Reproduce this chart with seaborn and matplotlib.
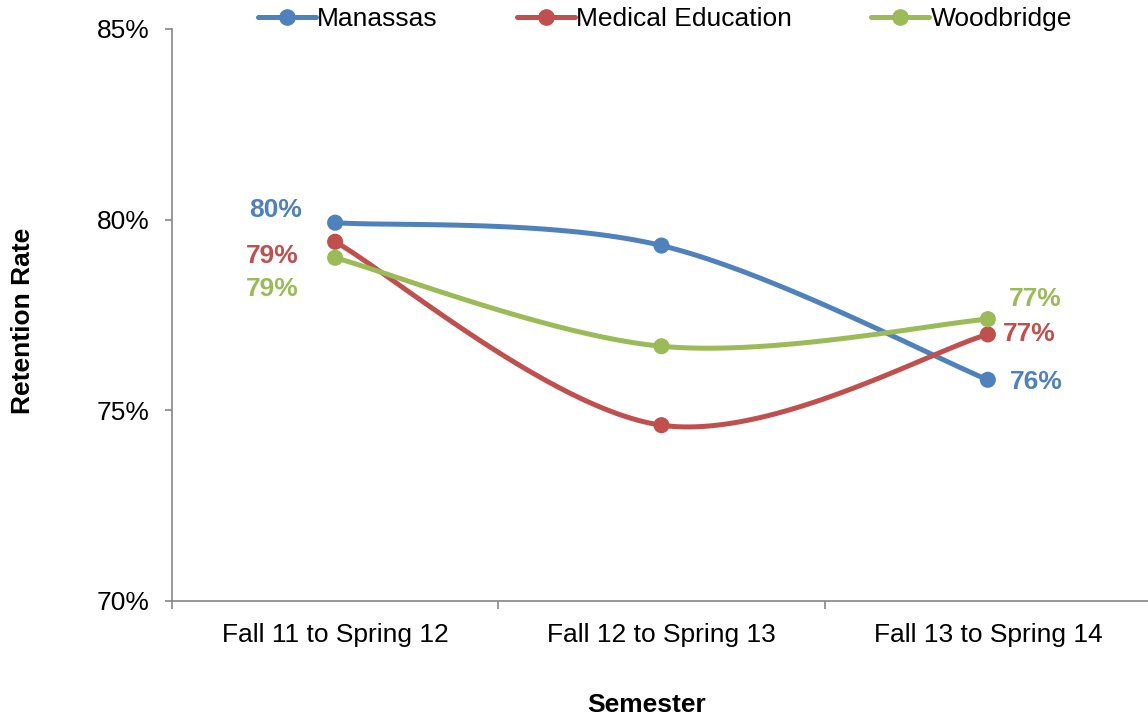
import numpy as np
import pandas as pd
import matplotlib
matplotlib.use("Agg")
import matplotlib.pyplot as plt
import seaborn as sns
from matplotlib.lines import Line2D

# --- Data (retention rate, %) ---
semesters = ["Fall 11 to Spring 12", "Fall 12 to Spring 13", "Fall 13 to Spring 14"]
series_names = ["Manassas", "Medical Education", "Woodbridge"]
manassas = [79.92, 79.32, 75.80]
medical_education = [79.42, 74.61, 76.99]
woodbridge = [79.00, 76.68, 77.39]
colors = ["#4F81BD", "#C0504D", "#9BBB59"]


def smooth_curve(y, steps=60):
    """Excel-like smoothed line: cubic Bezier through the points (Catmull-Rom tangents)."""
    x = np.arange(len(y), dtype=float)
    y = np.asarray(y, dtype=float)
    pts = np.column_stack([x, y])
    out = []
    n = len(pts)
    for i in range(n - 1):
        p0 = pts[max(i - 1, 0)]
        p1 = pts[i]
        p2 = pts[i + 1]
        p3 = pts[min(i + 2, n - 1)]
        c1 = p1 + (p2 - p0) / 6.0
        c2 = p2 - (p3 - p1) / 6.0
        t = np.linspace(0, 1, steps)[:, None]
        seg = ((1 - t) ** 3) * p1 + 3 * ((1 - t) ** 2) * t * c1 + 3 * (1 - t) * t ** 2 * c2 + t ** 3 * p2
        out.append(seg if i == 0 else seg[1:])
    out = np.vstack(out)
    return out[:, 0], out[:, 1]


values = {"Manassas": manassas, "Medical Education": medical_education, "Woodbridge": woodbridge}

# long tables for seaborn
curve_rows = []
point_rows = []
for name in series_names:
    xs, ys = smooth_curve(values[name])
    curve_rows.append(pd.DataFrame({"x": xs, "rate": ys, "series": name}))
    point_rows.append(pd.DataFrame({"x": np.arange(len(semesters)), "rate": values[name], "series": name}))
curves = pd.concat(curve_rows, ignore_index=True)
points = pd.concat(point_rows, ignore_index=True)

# --- Plotting ---
sns.set_style("white")
plt.rcParams["font.family"] = ["Liberation Sans", "DejaVu Sans"]
plt.rcParams["text.color"] = "black"
plt.rcParams["axes.labelcolor"] = "black"
plt.rcParams["xtick.labelcolor"] = "black"
plt.rcParams["ytick.labelcolor"] = "black"
palette = dict(zip(series_names, colors))

fig = plt.figure(figsize=(11.48, 7.17), dpi=100)
ax = fig.add_axes([0.1498, 0.1618, 0.8528, 0.7978])

sns.lineplot(data=curves, x="x", y="rate", hue="series", palette=palette,
             linewidth=3.6, sort=False, estimator=None, legend=False, ax=ax)
sns.scatterplot(data=points, x="x", y="rate", hue="series", palette=palette,
                s=135, edgecolor="none", legend=False, ax=ax, zorder=5)

# data labels: (offset x px, offset y px, ha) for first and last point
label_style = {
    "Manassas": [(-33, 13, "right"), (22, -2, "left")],
    "Medical Education": [(-37, -14, "right"), (15, 0, "left")],
    "Woodbridge": [(-37, -31, "right"), (21, 20, "left")],
}
for name in series_names:
    v = values[name]
    for idx, (dx, dy, ha) in zip([0, len(v) - 1], label_style[name]):
        ax.annotate(f"{v[idx]:.0f}%", xy=(idx, v[idx]), xytext=(dx, dy),
                    textcoords="offset pixels", ha=ha, va="center",
                    fontsize=19, fontweight="bold", color=palette[name])

ax.set_xlim(-0.5, 2.5)
ax.set_ylim(70, 85)
ax.set_yticks([70, 75, 80, 85])
ax.set_yticklabels([f"{t}%" for t in [70, 75, 80, 85]])
ax.set_xticks([-0.5, 0.5, 1.5, 2.5])
ax.set_xticklabels([])
ax.set_xticks([0, 1, 2], minor=True)
ax.set_xticklabels(semesters, minor=True)

axis_gray = "#868686"
for side in ["top", "right"]:
    ax.spines[side].set_visible(False)
for side in ["left", "bottom"]:
    ax.spines[side].set_color(axis_gray)
    ax.spines[side].set_linewidth(1.2)
ax.tick_params(axis="y", which="major", direction="out", length=5, width=1.2,
               color=axis_gray, labelsize=19, pad=11, left=True)
ax.tick_params(axis="x", which="major", direction="out", length=6, width=1.2,
               color=axis_gray, bottom=True)
ax.tick_params(axis="x", which="minor", length=0, labelsize=19, pad=16)

ax.set_xlabel("Semester", fontsize=19, fontweight="bold")
ax.set_ylabel("Retention Rate", fontsize=19, fontweight="bold")
ax.xaxis.set_label_coords(0.485, -0.16)
ax.yaxis.set_label_coords(-0.14, 0.49)

handles = [Line2D([0], [0], color=c, lw=3.6, marker="o", markersize=11) for c in colors]
fig.legend(handles, series_names, loc="center", bbox_to_anchor=(0.579, 0.973),
           ncol=3, frameon=False, fontsize=19, handlelength=2.2, handletextpad=0.05,
           columnspacing=3.0)

fig.savefig("out.png", dpi=100)
